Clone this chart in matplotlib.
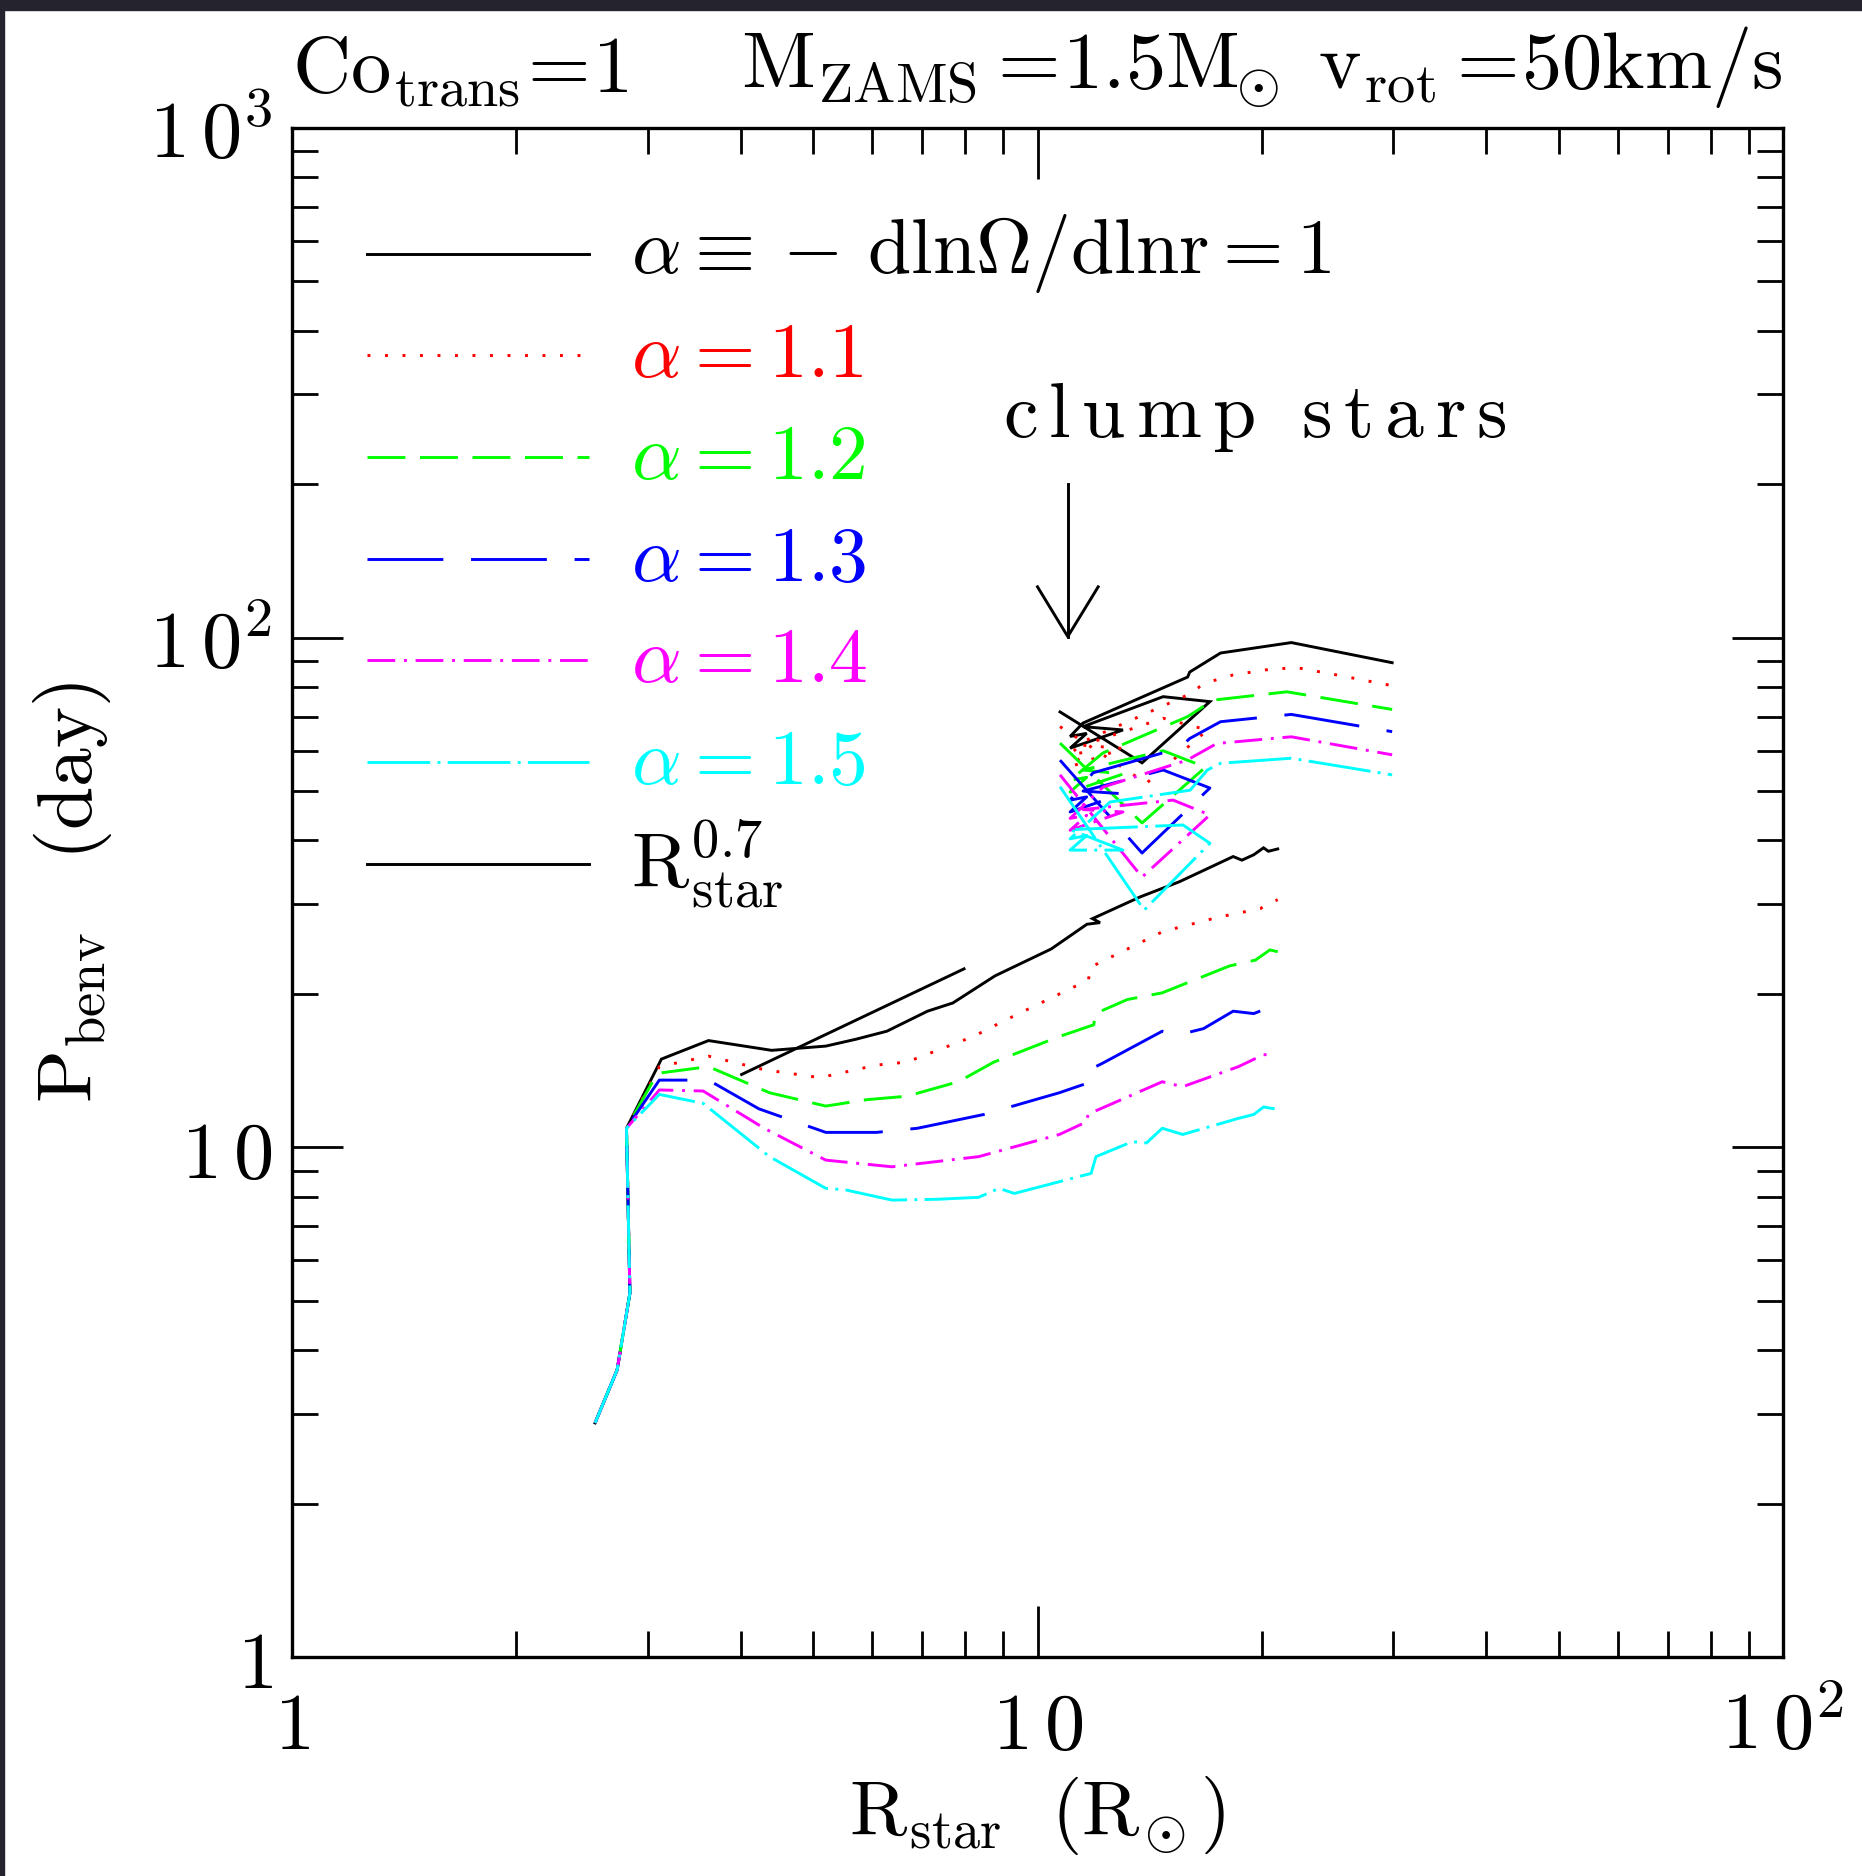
import numpy as np
import matplotlib
matplotlib.use("Agg")
import matplotlib.pyplot as plt
from matplotlib.patches import Rectangle
from matplotlib.ticker import FixedLocator, FixedFormatter, LogLocator, NullFormatter

plt.rcParams["mathtext.fontset"] = "cm"
plt.rcParams["font.family"] = "DejaVu Serif"

# ---------------------------------------------------------------- data
# shared early evolution (all alpha values coincide here)
base_R = [2.55, 2.73, 2.84, 2.81]
base_P = [2.88, 3.66, 5.18, 10.9]

# subgiant / red giant branch, per alpha
rgb_R_a10 = [3.13, 3.62, 4.40, 5.20, 5.71, 6.28, 7.12, 7.70, 8.77, 10.43, 11.65, 12.13, 11.85, 13.73, 15.5, 18.3, 18.8, 19.5, 20.1, 20.4, 21.0]
rgb_P_a10 = [14.9, 16.2, 15.5, 15.8, 16.3, 16.9, 18.5, 19.2, 21.7, 24.5, 27.4, 27.6, 28.1, 31.0, 33.2, 37.2, 36.6, 37.5, 38.7, 38.1, 38.5]

rgb_R_a11 = [3.11, 3.62, 4.30, 5.11, 6.08, 6.68, 8.20, 9.08, 10.4, 11.7, 11.8, 14.72, 17.5, 19.9, 20.5, 21.0]
rgb_P_a11 = [14.4, 15.1, 14.2, 13.7, 14.5, 14.7, 16.5, 17.8, 19.6, 21.3, 22.6, 26.5, 28.3, 29.4, 30.2, 30.6]

rgb_R_a12 = [3.09, 3.62, 4.37, 5.20, 5.89, 6.68, 7.83, 8.74, 10.7, 11.9, 11.95, 13.2, 14.7, 18.1, 19.6, 20.5, 21.0]
rgb_P_a12 = [13.97, 14.4, 12.8, 12.05, 12.4, 12.6, 13.45, 14.7, 16.5, 17.4, 18.3, 19.5, 20.1, 22.7, 23.3, 24.4, 24.2]

rgb_R_a13 = [3.11, 3.62, 4.23, 5.20, 6.08, 6.90, 8.47, 10.7, 11.9, 11.85, 12.2, 14.7, 15.4, 16.7, 18.3, 19.5, 20.8]
rgb_P_a13 = [13.55, 13.55, 11.9, 10.7, 10.7, 10.9, 11.6, 12.8, 13.5, 14.3, 14.6, 16.9, 16.6, 17.1, 18.5, 18.3, 19.0]

rgb_R_a14 = [3.11, 3.56, 4.30, 5.20, 6.38, 8.34, 10.7, 11.6, 11.7, 11.98, 14.7, 15.66, 18.6, 20.1, 20.8]
rgb_P_a14 = [12.96, 12.9, 10.9, 9.44, 9.16, 9.59, 10.6, 11.2, 11.6, 11.8, 13.45, 13.15, 14.4, 15.2, 15.2]

rgb_R_a15 = [3.11, 3.56, 4.37, 5.20, 5.53, 6.38, 7.35, 8.34, 8.88, 9.31, 11.8, 11.98, 13.4, 14.0, 14.7, 15.66, 18.6, 19.5, 20.1, 20.8]
rgb_P_a15 = [12.7, 12.2, 9.59, 8.31, 8.25, 7.88, 7.91, 7.98, 8.31, 8.12, 8.89, 9.59, 10.26, 10.2, 10.9, 10.6, 11.4, 11.6, 12.0, 11.9]

# core-helium burning (clump) and asymptotic giant branch, per alpha
hb_R_a10 = [10.72, 13.81, 17.03, 14.74, 11.51, 13.02, 11.06, 11.64, 11.06, 11.51, 15.9, 16.0, 17.6, 21.9, 29.9]
hb_P_a10 = [71.5, 56.8, 74.9, 76.6, 66.9, 65.9, 60.7, 64.9, 64.0, 68.0, 83.7, 85.6, 93.3, 97.8, 89.3]

hb_R_a11 = [10.72, 14.0, 16.9, 14.74, 11.51, 13.02, 11.06, 11.64, 11.06, 11.51, 15.9, 16.5, 17.2, 18.3, 20.5, 22.3, 25.2, 29.9]
hb_P_a11 = [66.9, 51.8, 65.9, 69.5, 61.5, 60.6, 55.8, 59.7, 58.9, 62.5, 77.2, 80.1, 82.3, 84.5, 86.7, 87.3, 84.5, 80.5]

hb_R_a12 = [10.72, 13.81, 16.8, 14.74, 11.51, 13.02, 11.06, 11.64, 11.06, 12.24, 15.9, 17.2, 21.6, 29.9]
hb_P_a12 = [62.1, 43.3, 55.7, 60.0, 55.0, 54.0, 49.8, 53.2, 52.5, 59.4, 70.0, 75.4, 78.3, 72.3]

hb_R_a13 = [10.72, 13.81, 17.03, 14.74, 11.51, 13.02, 11.06, 11.64, 11.06, 11.87, 15.5, 16.0, 17.6, 21.9, 29.9]
hb_P_a13 = [57.5, 37.8, 50.7, 55.0, 50.0, 49.4, 45.5, 48.7, 48.0, 54.3, 60.7, 63.4, 68.4, 70.7, 65.4]

hb_R_a14 = [10.72, 13.81, 17.03, 15.2, 11.51, 13.02, 11.06, 11.64, 11.06, 12.24, 15.87, 17.4, 21.9, 29.9]
hb_P_a14 = [53.8, 33.9, 44.9, 48.0, 46.0, 45.5, 41.9, 44.8, 44.2, 50.9, 57.5, 62.0, 63.9, 58.9]

hb_R_a15 = [10.72, 13.9, 17.03, 15.67, 11.06, 13.02, 11.06, 11.64, 11.06, 12.51, 16.02, 16.9, 17.6, 21.9, 29.9]
hb_P_a15 = [51.0, 29.2, 39.5, 42.9, 42.0, 38.3, 38.3, 40.9, 40.3, 47.6, 50.2, 55.0, 56.7, 58.0, 53.8]

# reference slope P ~ R^0.7
ref_R = [4.01, 7.97]
ref_P = [13.9, 22.4]

# arrow marking the clump stars
arrow_R = [10.98, 10.98]
arrow_P = [200.0, 100.5]
arrow_head_R = [10.0, 10.98, 12.06]
arrow_head_P = [125.8, 100.5, 125.8]

alpha_labels = ["1", "1.1", "1.2", "1.3", "1.4", "1.5"]
colors = ["black", "#ff0000", "#00ff00", "#0000ff", "#ff00ff", "#00ffff"]

rgb_R = [rgb_R_a10, rgb_R_a11, rgb_R_a12, rgb_R_a13, rgb_R_a14, rgb_R_a15]
rgb_P = [rgb_P_a10, rgb_P_a11, rgb_P_a12, rgb_P_a13, rgb_P_a14, rgb_P_a15]
hb_R = [hb_R_a10, hb_R_a11, hb_R_a12, hb_R_a13, hb_R_a14, hb_R_a15]
hb_P = [hb_P_a10, hb_P_a11, hb_P_a12, hb_P_a13, hb_P_a14, hb_P_a15]

LW = 2.1
styles = [
    "-",
    (0, (1, 5)),
    (0, (13, 5)),
    (0, (26, 9.5)),
    (0, (9.5, 3, 1, 3)),
    (0, (21.5, 2.5, 1, 2.5)),
]

# ---------------------------------------------------------------- figure
fig = plt.figure(figsize=(18.62, 18.76), dpi=100)
ax = fig.add_axes([0.1568, 0.1167, 0.8008, 0.8151])
ax.set_xscale("log")
ax.set_yscale("log")
ax.set_xlim(1, 100)
ax.set_ylim(1, 1000)

for i in range(6):
    R1 = base_R + rgb_R[i]
    P1 = base_P + rgb_P[i]
    ax.plot(R1, P1, color=colors[i], lw=LW, ls=styles[i], solid_joinstyle="miter")
    ax.plot(hb_R[i], hb_P[i], color=colors[i], lw=LW, ls=styles[i], solid_joinstyle="miter")

ax.plot(ref_R, ref_P, color="black", lw=LW)
ax.plot(arrow_R, arrow_P, color="black", lw=LW)
ax.plot(arrow_head_R, arrow_head_P, color="black", lw=LW)

ax.text(0.4769, 0.798, r"$\mathrm{c\,l\,u\,m\,p\ \ s\,t\,a\,r\,s}$", transform=ax.transAxes,
        fontsize=56, ha="left", va="baseline")

# legend drawn by hand
leg_y0 = 0.9178
leg_dy = 0.0665
legend_texts = [r"$\alpha\equiv-\,\mathrm{dln}\Omega/\mathrm{dlnr}=1$"] + \
    [r"$\alpha=%s$" % a for a in alpha_labels[1:]] + \
    [r"$\mathrm{R_{star}^{0.7}}$"]
legend_colors = colors + ["black"]
legend_styles = styles + ["-"]
for k in range(7):
    y = leg_y0 - k * leg_dy
    ax.plot([0.0503, 0.1992], [y, y], transform=ax.transAxes, color=legend_colors[k],
            lw=LW, ls=legend_styles[k])
    ax.text(0.2274, y, legend_texts[k], transform=ax.transAxes, color=legend_colors[k],
            fontsize=56, ha="left", va="center")

# axes cosmetics
for s in ax.spines.values():
    s.set_linewidth(2.4)
ax.xaxis.set_major_locator(FixedLocator([1, 10, 100]))
ax.xaxis.set_major_formatter(FixedFormatter([r"$1$", r"$1\,0$", r"$1\,0^2$"]))
ax.yaxis.set_major_locator(FixedLocator([1, 10, 100, 1000]))
ax.yaxis.set_major_formatter(FixedFormatter([r"$1$", r"$1\,0$", r"$1\,0^2$", r"$1\,0^3$"]))
for a in (ax.xaxis, ax.yaxis):
    a.set_minor_locator(LogLocator(base=10, subs=np.arange(2, 10)))
    a.set_minor_formatter(NullFormatter())
ax.tick_params(which="both", direction="in", top=True, right=True, width=2.0)
ax.tick_params(which="major", length=37, labelsize=58)
ax.tick_params(which="minor", length=18.5)
ax.tick_params(axis="x", which="major", pad=22)
ax.tick_params(axis="y", which="major", pad=14)

ax.set_xlabel(r"$\mathrm{R_{star}\ \ (R_{\!\odot})}$", fontsize=56, labelpad=6)
ax.set_ylabel(r"$\mathrm{P_{benv}\ \ \ (day)}$", fontsize=56, labelpad=25)

ax.text(0.0, 1.012, r"$\mathrm{Co_{trans}\!=\!1}$", transform=ax.transAxes,
        fontsize=58, ha="left", va="bottom")
ax.text(1.0, 1.012,
        r"$\mathrm{M_{ZAMS}=\!1.5M_{\!\!\odot}\ v_{rot}=\!50km/s}$",
        transform=ax.transAxes, fontsize=58, ha="right", va="bottom")

# dark window frame around the page
fig.patches.append(Rectangle((0, 0.9947), 1, 0.0053, transform=fig.transFigure,
                             color="#24232e", zorder=10))
fig.patches.append(Rectangle((0, 0), 0.002, 1, transform=fig.transFigure,
                             color="#24232e", zorder=10))

fig.savefig("out.png", dpi=100)
